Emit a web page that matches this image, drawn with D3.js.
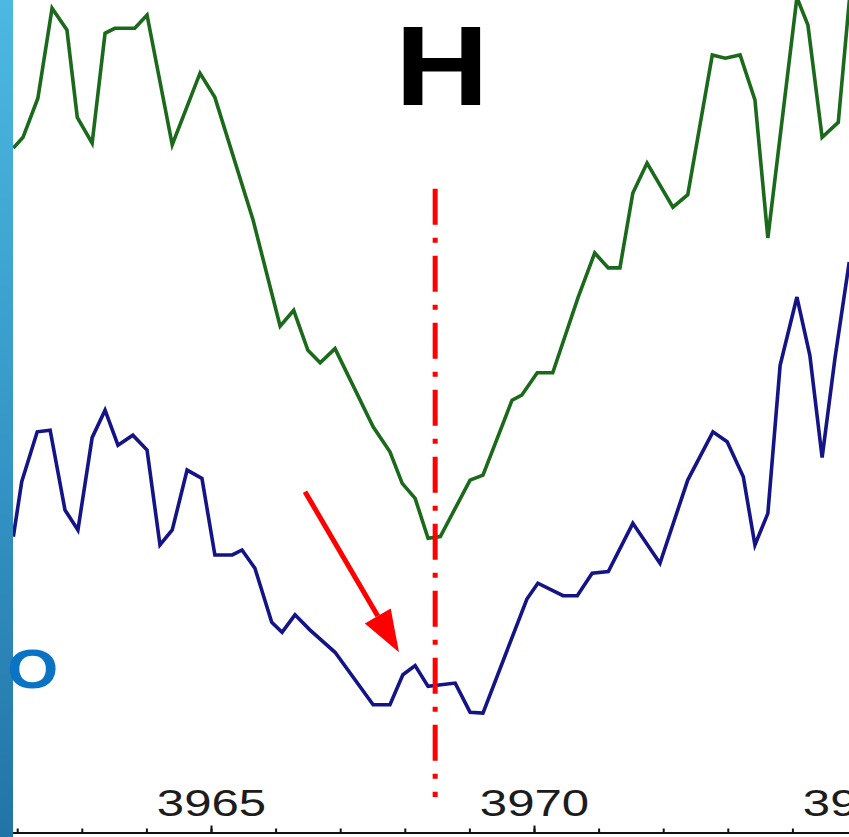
<!DOCTYPE html>
<html>
<head>
<meta charset="utf-8">
<script src="https://cdn.jsdelivr.net/npm/d3@7"></script>
<style>
  html, body { margin: 0; padding: 0; background: #ffffff; }
  svg { display: block; }
</style>
</head>
<body>
<svg id="chart" width="849" height="837"></svg>
<script>
// Spectrum around the Ca II H line (wavelength in Å, relative flux)
const greenWave = [3961.94, 3962.09, 3962.32, 3962.54, 3962.77, 3962.93, 3963.16, 3963.36, 3963.51, 3963.82,
  3964.01, 3964.40, 3964.83, 3965.06, 3965.65, 3966.07, 3966.28, 3966.50, 3966.69, 3966.92,
  3967.51, 3967.77, 3967.96, 3968.16, 3968.36, 3968.55, 3969.01, 3969.21, 3969.47, 3969.66,
  3969.81, 3970.05, 3970.29, 3970.68, 3970.94, 3971.15, 3971.33, 3971.53, 3971.75, 3972.15,
  3972.38, 3972.76, 3972.96, 3973.19, 3973.42, 3973.62, 3974.07, 3974.24, 3974.46, 3974.71, 3974.91];
const greenFlux = [0.822, 0.835, 0.882, 0.990, 0.964, 0.859, 0.828, 0.960, 0.966, 0.966,
  0.982, 0.826, 0.912, 0.883, 0.736, 0.608, 0.627, 0.579, 0.564, 0.581,
  0.487, 0.457, 0.419, 0.401, 0.353, 0.355, 0.423, 0.429, 0.481, 0.519,
  0.525, 0.552, 0.552, 0.642, 0.696, 0.678, 0.678, 0.768, 0.804, 0.751,
  0.766, 0.934, 0.930, 0.934, 0.880, 0.714, 1.003, 0.970, 0.835, 0.853, 1.024];

const blueWave = [3961.94, 3962.07, 3962.31, 3962.51, 3962.74, 3962.94, 3963.16, 3963.36, 3963.56, 3963.79,
  3964.01, 3964.21, 3964.40, 3964.63, 3964.86, 3965.06, 3965.33, 3965.48, 3965.68, 3965.94,
  3966.10, 3966.30, 3966.53, 3966.92, 3967.51, 3967.77, 3967.97, 3968.16, 3968.36, 3968.78,
  3969.01, 3969.21, 3969.89, 3970.06, 3970.45, 3970.67, 3970.90, 3971.15, 3971.53, 3971.95,
  3972.38, 3972.77, 3972.99, 3973.24, 3973.42, 3973.62, 3973.81, 3974.07, 3974.27, 3974.46,
  3974.66, 3974.88];
const blueFlux = [0.355, 0.421, 0.481, 0.483, 0.387, 0.363, 0.474, 0.507, 0.465, 0.477,
  0.459, 0.345, 0.363, 0.435, 0.425, 0.333, 0.333, 0.339, 0.317, 0.252,
  0.240, 0.261, 0.243, 0.216, 0.153, 0.153, 0.189, 0.200, 0.175, 0.179,
  0.144, 0.143, 0.280, 0.299, 0.284, 0.284, 0.311, 0.313, 0.371, 0.323,
  0.423, 0.481, 0.469, 0.427, 0.345, 0.383, 0.561, 0.643, 0.573, 0.450,
  0.570, 0.685];

// Axis ticks and annotations
const majorTicks = [3965, 3970, 3975];
const minorTicks = [3962, 3963, 3964, 3965, 3966, 3967, 3968, 3969, 3970, 3971, 3972, 3973, 3974, 3975];
const lineCenter = 3968.47;          // Ca II H rest wavelength
const lineSpan = [0.042, 0.773];     // flux extent of the marker line
const arrowFrom = [3966.455, 0.409];
const arrowTo = [3967.91, 0.216];
const titleText = "H";
const sideText = "O";

const W = 849, H = 837;
const svg = d3.select("#chart");

const x = d3.scaleLinear().domain([3961.7, 3975.2]).range([211 - 3.3 * 64.6, 211 + 10.2 * 64.6]);
const y = d3.scaleLinear().domain([0, 1]).range([832, 0]);

const defs = svg.append("defs");
defs.append("clipPath").attr("id", "plotClip")
  .append("rect").attr("x", 0).attr("y", 0).attr("width", W).attr("height", 832);
const grad = defs.append("linearGradient").attr("id", "barGrad")
  .attr("x1", 0).attr("y1", 0).attr("x2", 0).attr("y2", 1);
grad.append("stop").attr("offset", "0%").attr("stop-color", "#4cb9e0");
grad.append("stop").attr("offset", "55%").attr("stop-color", "#3595c6");
grad.append("stop").attr("offset", "100%").attr("stop-color", "#2274a6");

svg.append("rect").attr("width", W).attr("height", H).attr("fill", "#ffffff");

const line = d3.line().x(d => x(d[0])).y(d => y(d[1]));
const plot = svg.append("g").attr("clip-path", "url(#plotClip)");

plot.append("path")
  .datum(d3.zip(greenWave, greenFlux))
  .attr("d", line)
  .attr("fill", "none")
  .attr("stroke", "#1b6a1b")
  .attr("stroke-width", 3.6)
  .attr("stroke-linejoin", "miter");

plot.append("path")
  .datum(d3.zip(blueWave, blueFlux))
  .attr("d", line)
  .attr("fill", "none")
  .attr("stroke", "#141486")
  .attr("stroke-width", 3.6)
  .attr("stroke-linejoin", "miter");

// Dash-dot marker at the line centre
svg.append("line")
  .attr("x1", x(lineCenter)).attr("x2", x(lineCenter))
  .attr("y1", y(lineSpan[1])).attr("y2", y(lineSpan[0]))
  .attr("stroke", "#ff0000")
  .attr("stroke-width", 5)
  .attr("stroke-dasharray", "36,13,5,13");

// Arrow pointing at the emission reversal
const ax0 = x(arrowFrom[0]), ay0 = y(arrowFrom[1]);
const ax1 = x(arrowTo[0]), ay1 = y(arrowTo[1]);
const ang = Math.atan2(ay1 - ay0, ax1 - ax0);
const headLen = 42, headHalf = 15;
const bx = ax1 - headLen * Math.cos(ang), by = ay1 - headLen * Math.sin(ang);
svg.append("line")
  .attr("x1", ax0).attr("y1", ay0).attr("x2", bx).attr("y2", by)
  .attr("stroke", "#ff0000").attr("stroke-width", 5);
svg.append("polygon")
  .attr("points", [
    [ax1, ay1],
    [bx + headHalf * Math.sin(ang), by - headHalf * Math.cos(ang)],
    [bx - headHalf * Math.sin(ang), by + headHalf * Math.cos(ang)]
  ].map(p => p.join(",")).join(" "))
  .attr("fill", "#ff0000");

// Wavelength axis with inward ticks
const minorAxis = d3.axisTop(x).tickValues(minorTicks).tickSize(4).tickSizeOuter(0).tickFormat("");
const majorAxis = d3.axisTop(x).tickValues(majorTicks).tickSize(7).tickSizeOuter(0).tickPadding(10).tickFormat(d3.format("d"));

const gMinor = svg.append("g").attr("transform", "translate(0,832.5)").call(minorAxis);
gMinor.select(".domain").attr("stroke", "#111").attr("stroke-width", 2);
gMinor.selectAll(".tick line").attr("stroke", "#111").attr("stroke-width", 2);

const gMajor = svg.append("g").attr("transform", "translate(0,832.5)").call(majorAxis);
gMajor.select(".domain").remove();
gMajor.selectAll(".tick line").attr("stroke", "#111").attr("stroke-width", 2);
gMajor.selectAll(".tick text")
  .attr("fill", "#1c1c1c")
  .attr("font-family", "Liberation Sans, Arial, sans-serif")
  .attr("font-size", 37)
  .attr("transform", "scale(1.33,1)");

// Line identifier
svg.append("text")
  .attr("transform", "translate(442,105) scale(1.15,1)")
  .attr("text-anchor", "middle")
  .attr("font-family", "Liberation Sans, Arial, sans-serif")
  .attr("font-weight", "bold")
  .attr("font-size", 113)
  .attr("fill", "#000000")
  .text(titleText);

// Side panel strip
svg.append("rect").attr("x", 0).attr("y", 0).attr("width", 13).attr("height", H).attr("fill", "url(#barGrad)");

svg.append("text")
  .attr("transform", "translate(7,688) scale(1.2,1)")
  .attr("text-anchor", "start")
  .attr("font-family", "Liberation Sans, Arial, sans-serif")
  .attr("font-weight", "bold")
  .attr("font-size", 55)
  .attr("fill", "#0a73c4")
  .text(sideText);
</script>
</body>
</html>
